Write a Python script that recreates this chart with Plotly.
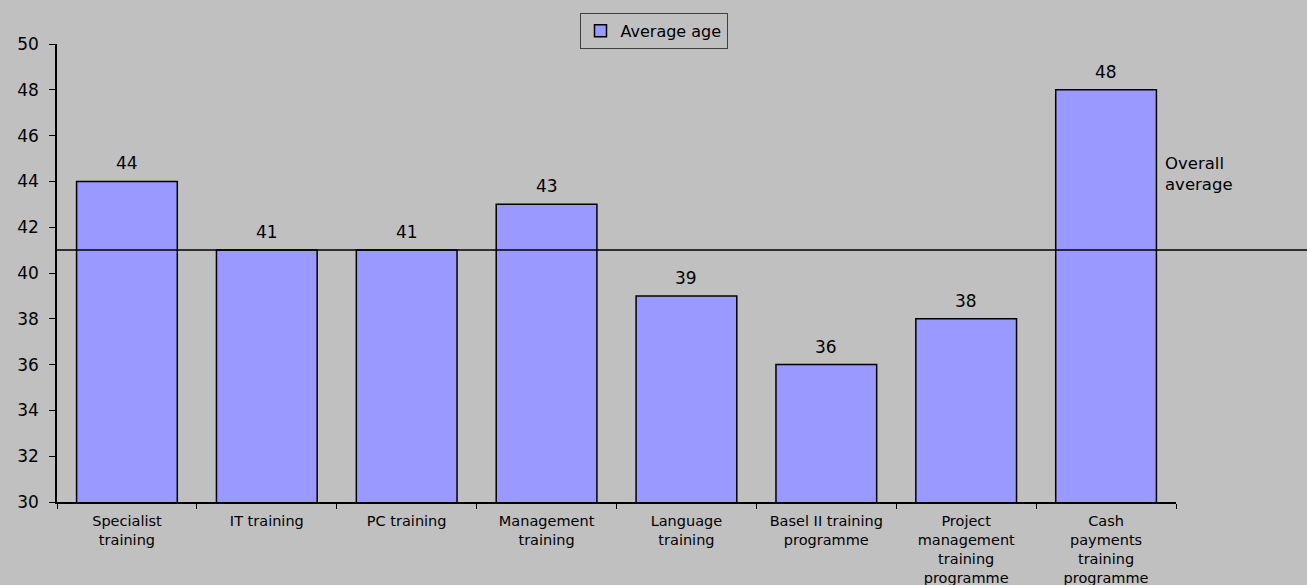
import plotly.graph_objects as go

categories = [
    "Specialist<br>training",
    "IT training",
    "PC training",
    "Management<br>training",
    "Language<br>training",
    "Basel II training<br>programme",
    "Project<br>management<br>training<br>programme",
    "Cash<br>payments<br>training<br>programme",
]
average_age = [44, 41, 41, 43, 39, 36, 38, 48]
overall_average = 41
y_min, y_max = 30, 50
y_ticks = list(range(30, 51, 2))

BG = "#C0C0C0"
FONT = "DejaVu Sans, Liberation Sans, Arial, sans-serif"

fig = go.Figure()
fig.add_trace(go.Bar(
    x=categories,
    y=average_age,
    name="Average age",
    marker=dict(color="#9999FF", line=dict(color="black", width=1.5)),
    width=0.72,
    hoverinfo="skip",
))

for c, v in zip(categories, average_age):
    fig.add_annotation(
        x=c, y=v, text=str(v), showarrow=False,
        yanchor="bottom", yshift=6,
        font=dict(size=17, color="black", family=FONT),
    )

y_frac = (overall_average - y_min) / (y_max - y_min)
fig.add_shape(
    type="line", xref="paper", yref="paper",
    x0=0, x1=1.2, y0=y_frac, y1=y_frac,
    line=dict(color="black", width=1.5),
    layer="above",
)
fig.add_annotation(
    xref="paper", yref="paper", x=0.988, y=0.716,
    text="Overall<br>average", showarrow=False,
    xanchor="left", yanchor="middle", align="left",
    font=dict(size=16.5, color="black", family=FONT),
)

fig.update_layout(
    width=1307, height=585,
    paper_bgcolor=BG, plot_bgcolor=BG,
    margin=dict(l=57, r=131, t=44, b=83, autoexpand=False),
    font=dict(family=FONT, color="black"),
    showlegend=True,
    legend=dict(
        xref="container", yref="container",
        x=0.5, y=0.978, xanchor="center", yanchor="top",
        orientation="h",
        bgcolor=BG, bordercolor="#404040", borderwidth=1,
        font=dict(size=16, family=FONT, color="black"),
        itemwidth=30,
    ),
    xaxis=dict(
        showline=True, linecolor="black", linewidth=1.5,
        ticks="outside", tickson="boundaries", ticklen=5,
        tickcolor="black", tickwidth=1,
        tickfont=dict(size=14.5, family=FONT, color="black"),
        ticklabelstandoff=5,
        showgrid=False, zeroline=False,
    ),
    yaxis=dict(
        range=[y_min, y_max], tickvals=y_ticks,
        showline=True, linecolor="black", linewidth=1.5,
        ticks="outside", ticklen=6, tickcolor="black", tickwidth=1,
        tickfont=dict(size=17, family=FONT, color="black"),
        ticklabelstandoff=7,
        showgrid=False, zeroline=False,
    ),
    bargap=0.28,
)

fig.write_html("out.html")
